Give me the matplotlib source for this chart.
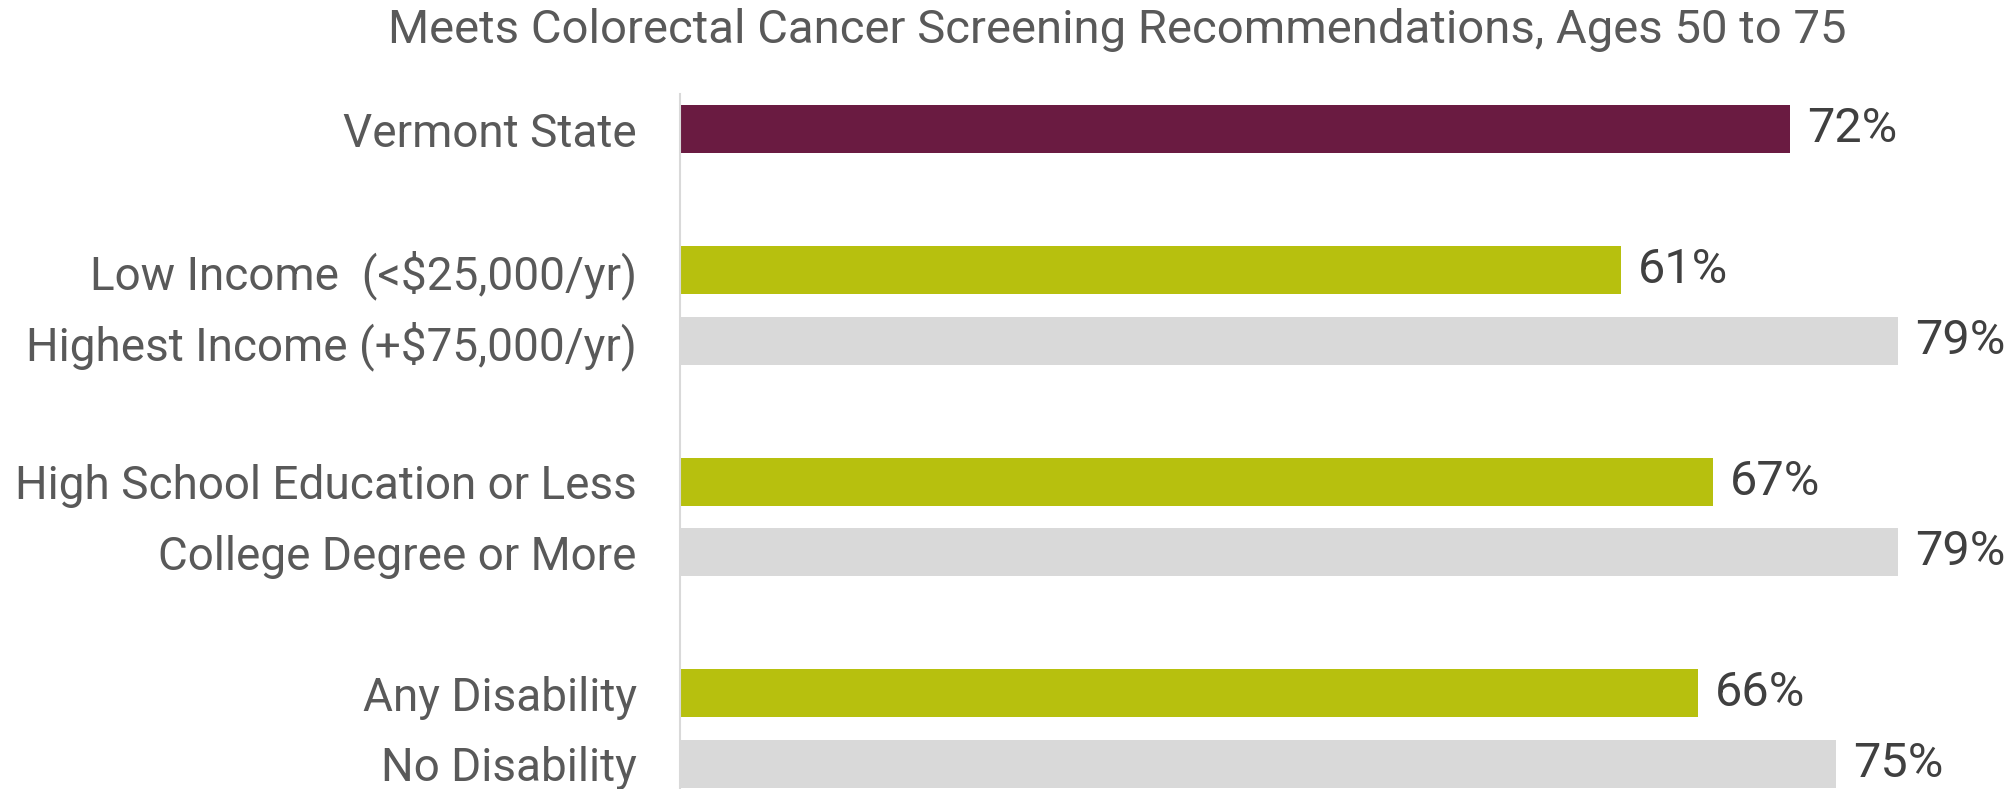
import matplotlib
matplotlib.use("Agg")
import matplotlib.pyplot as plt

categories = ["Vermont State",
              "Low Income  (<$25,000/yr)", "Highest Income (+$75,000/yr)",
              "High School Education or Less", "College Degree or More",
              "Any Disability", "No Disability"]
values = [72, 61, 79, 67, 79, 66, 75]
positions = [0, 2, 3, 5, 6, 8, 9]
colors = ["#6A1B41", "#B7C00E", "#D9D9D9", "#B7C00E", "#D9D9D9", "#B7C00E", "#D9D9D9"]
title = "Meets Colorectal Cancer Screening Recommendations, Ages 50 to 75"

plt.rcParams['font.family'] = ['Roboto', 'DejaVu Sans']

W, H = 2014, 789
fig = plt.figure(figsize=(W / 100, H / 100), dpi=100)
ax_left = 680 / W
ax_bottom = 0.0
ax_top = 94 / H
ax = fig.add_axes([ax_left, ax_bottom, 1 - ax_left, 1 - ax_top - ax_bottom])

ax.barh(positions, values, height=0.68, color=colors)
ax.set_xlim(0, (W - 680) / 15.42)
ax.set_ylim(9.36, -0.5)

for p, v in zip(positions, values):
    ax.text(v + 1.1, p, f"{v}%", va="center", ha="left", fontsize=35, color="#404040")

ax.set_yticks(positions)
ax.set_yticklabels(categories, fontsize=33, color="#595959")
ax.tick_params(axis="y", length=0, pad=31)
ax.set_xticks([])
for s in ["top", "right", "bottom"]:
    ax.spines[s].set_visible(False)
ax.spines["left"].set_color("#D9D9D9")
ax.spines["left"].set_linewidth(1.5)

fig.text(1117 / W, 1 - 30 / H, title, ha="center", va="center", fontsize=34, color="#595959")

fig.savefig("out.png", dpi=100)
